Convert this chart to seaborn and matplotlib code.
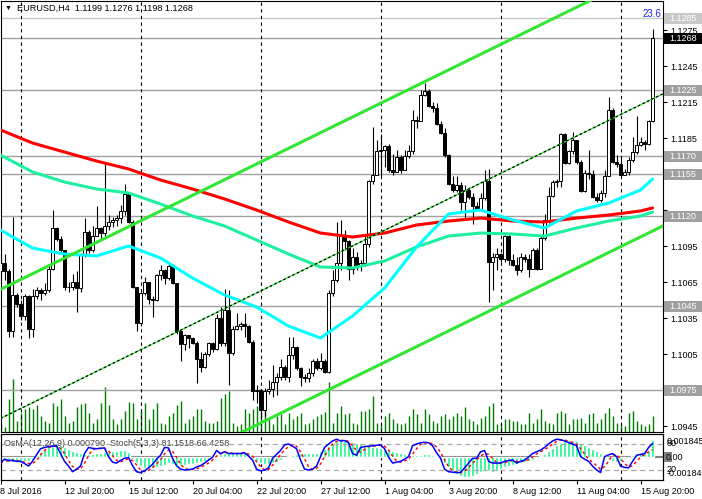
import numpy as np
import matplotlib
matplotlib.use("Agg")
import matplotlib.pyplot as plt
import matplotlib.transforms as mtransforms
from matplotlib.patches import Rectangle
import seaborn as sns

# EURUSD H4 candles, 8 Jul 2016 04:00 .. 16 Aug 2016 08:00
first_open = 1.1074
closes = [
    1.1081, 1.1074, 1.1024, 1.1054, 1.1047, 1.1037, 1.1053, 1.1026, 1.1053, 1.1058,
    1.1056, 1.1058, 1.1076, 1.1110, 1.1101, 1.1092, 1.1061, 1.1061, 1.1065, 1.1060,
    1.1088, 1.1107, 1.1092, 1.1103, 1.1110, 1.1106, 1.1112, 1.1115, 1.1117, 1.1118,
    1.1124, 1.1138, 1.1115, 1.1061, 1.1031, 1.1056, 1.1065, 1.1051, 1.1050, 1.1071,
    1.1075, 1.1068, 1.1078,
    1.1064, 1.1024, 1.1013, 1.1021, 1.1018, 1.1014, 1.1001, 1.0994, 1.1005, 1.1014,
    1.1009, 1.1035, 1.1014, 1.1042, 1.1006, 1.1026, 1.1028, 1.1030, 1.1028, 1.1015,
    1.0974, 1.0975, 1.0958, 1.0974, 1.0976, 1.0982, 1.0986, 1.0994, 1.0986, 1.1004,
    1.1011, 1.0993, 1.0986, 1.0985, 1.0989, 1.0999, 1.0993, 1.0999, 1.0990, 1.1056,
    1.1067,
    1.1081, 1.1104, 1.1099, 1.1076, 1.1086, 1.1078, 1.1081, 1.1097, 1.1149, 1.1154,
    1.1174, 1.1175, 1.1178, 1.1158, 1.1157, 1.1169, 1.1158, 1.1170, 1.1174, 1.1200,
    1.1199, 1.1221, 1.1224, 1.1212, 1.1210, 1.1197, 1.1189, 1.1171, 1.1147, 1.1142,
    1.1146, 1.1132, 1.1142, 1.1136, 1.1128, 1.1126, 1.1135, 1.1149, 1.1082, 1.1086,
    1.1088,
    1.1084, 1.1103, 1.1083, 1.1079, 1.1075, 1.1086, 1.1084, 1.1076, 1.1092, 1.1076,
    1.1102, 1.1117, 1.1137, 1.1148, 1.1149, 1.1188, 1.1164, 1.1174, 1.1183, 1.1165,
    1.1141, 1.1156, 1.1155, 1.1136, 1.1133, 1.1139, 1.1153, 1.1208, 1.1165, 1.1163,
    1.1154, 1.1157, 1.1167, 1.1173, 1.1179, 1.1182, 1.1180, 1.1199, 1.1268,
]
highs = [
    1.1088, 1.1088, 1.1076, 1.1119, 1.1056, 1.1050, 1.1055, 1.1054, 1.1059, 1.1061,
    1.1060, 1.1064, 1.1078, 1.1125, 1.1111, 1.1103, 1.1092, 1.1065, 1.1072, 1.1074,
    1.1089, 1.1118, 1.1108, 1.1112, 1.1128, 1.1111, 1.1164, 1.1121, 1.1119, 1.1121,
    1.1129, 1.1147, 1.1139, 1.1117, 1.1061, 1.1057, 1.1069, 1.1065, 1.1053, 1.1072,
    1.1079, 1.1076, 1.1081,
    1.1080, 1.1064, 1.1025, 1.1022, 1.1021, 1.1019, 1.1016, 1.1007, 1.1007, 1.1015,
    1.1015, 1.1038, 1.1044, 1.1059, 1.1058, 1.1028, 1.1039, 1.1032, 1.1039, 1.1029,
    1.1017, 1.0979, 1.0976, 1.0977, 1.0983, 1.0996, 1.0989, 1.1001, 1.0996, 1.1019,
    1.1019, 1.1012, 1.0994, 1.0988, 1.0993, 1.1001, 1.1002, 1.1006, 1.1001, 1.1058,
    1.1075,
    1.1115, 1.1117, 1.1108, 1.1100, 1.1093, 1.1090, 1.1083, 1.1103, 1.1150, 1.1194,
    1.1183, 1.1188, 1.1179, 1.1180, 1.1172, 1.1175, 1.1171, 1.1175, 1.1179, 1.1208,
    1.1203, 1.1225, 1.1231, 1.1226, 1.1215, 1.1214, 1.1199, 1.1193, 1.1172, 1.1153,
    1.1153, 1.1148, 1.1146, 1.1144, 1.1139, 1.1132, 1.1139, 1.1158, 1.1159, 1.1089,
    1.1093,
    1.1089, 1.1104, 1.1104, 1.1088, 1.1086, 1.1089, 1.1088, 1.1088, 1.1093, 1.1093,
    1.1104, 1.1122, 1.1144, 1.1150, 1.1151, 1.1189, 1.1189, 1.1175, 1.1190, 1.1183,
    1.1167, 1.1158, 1.1175, 1.1158, 1.1139, 1.1142, 1.1158, 1.1219, 1.1210, 1.1171,
    1.1168, 1.1159, 1.1169, 1.1186, 1.1203, 1.1186, 1.1183, 1.1200, 1.1276,
]
lows = [
    1.1068, 1.1067, 1.1019, 1.1019, 1.1044, 1.1033, 1.1033, 1.1018, 1.1019, 1.1051,
    1.1050, 1.1054, 1.1057, 1.1075, 1.1099, 1.1089, 1.1058, 1.1057, 1.1058, 1.1040,
    1.1057, 1.1086, 1.1089, 1.1090, 1.1104, 1.1100, 1.1103, 1.1108, 1.1111, 1.1112,
    1.1114, 1.1121, 1.1114, 1.1060, 1.1024, 1.1028, 1.1054, 1.1047, 1.1036, 1.1049,
    1.1067, 1.1063, 1.1067,
    1.1063, 1.1022, 1.0999, 1.1008, 1.1010, 1.1013, 1.0981, 1.0990, 1.0993, 1.1003,
    1.1007, 1.1008, 1.1012, 1.1012, 1.0979, 1.1004, 1.1025, 1.1025, 1.1019, 1.1014,
    1.0967, 1.0964, 1.0953, 1.0953, 1.0972, 1.0969, 1.0971, 1.0983, 1.0983, 1.0982,
    1.1001, 1.0992, 1.0978, 1.0982, 1.0982, 1.0987, 1.0992, 1.0992, 1.0989, 1.0989,
    1.1053,
    1.1065, 1.1075, 1.1092, 1.1067, 1.1072, 1.1075, 1.1074, 1.1078, 1.1094, 1.1147,
    1.1154, 1.1153, 1.1161, 1.1157, 1.1154, 1.1158, 1.1156, 1.1158, 1.1168, 1.1172,
    1.1193, 1.1199, 1.1220, 1.1211, 1.1207, 1.1196, 1.1188, 1.1169, 1.1146, 1.1140,
    1.1140, 1.1125, 1.1117, 1.1134, 1.1113, 1.1125, 1.1126, 1.1133, 1.1048, 1.1058,
    1.1075,
    1.1082, 1.1082, 1.1079, 1.1078, 1.1071, 1.1073, 1.1082, 1.1069, 1.1079, 1.1075,
    1.1078, 1.1100, 1.1114, 1.1136, 1.1144, 1.1144, 1.1163, 1.1163, 1.1172, 1.1163,
    1.1140, 1.1140, 1.1151, 1.1135, 1.1132, 1.1132, 1.1136, 1.1153, 1.1164, 1.1161,
    1.1153, 1.1154, 1.1154, 1.1165, 1.1172, 1.1178, 1.1175, 1.1179, 1.1198,
]
# tick volume, relative height
volumes = [
    8, 5, 33, 53, 11, 19, 23, 25, 23, 27, 16, 11, 9, 29, 26, 33, 16, 9, 11, 25,
    28, 29, 19, 9, 13, 29, 45, 27, 13, 8, 13, 21, 30, 29, 13, 21, 29,
    13, 23, 29, 9, 8, 16, 19, 27, 31, 9, 13, 16, 23, 23, 11, 9, 9, 11, 34, 38,
    41, 9, 6, 8, 23, 19, 23, 26, 19, 21, 13, 8, 16, 18, 8, 19, 13, 16, 19, 8,
    9, 13, 16, 18, 20, 50,
    9, 19, 26, 18, 19, 9, 8, 21, 21, 23, 36, 9, 8, 16, 19, 13, 9, 8, 9, 16,
    23, 18, 9, 23, 18, 11, 9, 16, 18, 13, 16, 19, 16, 25, 13, 11, 8, 14, 16, 26,
    29, 8, 9, 13, 13, 11, 11, 8, 8, 19, 9, 13, 23, 11, 9, 8, 19, 21, 19, 8,
    13, 13, 14, 9, 18, 19, 9, 13, 19, 24, 16, 9, 8, 6, 19, 21, 11, 8, 6, 8, 16,
]
# OsMA(12,26,9) histogram, in units of 0.00001
osma_e5 = [
    -19, -19, -23, -23, -23, -23, -19, -19, -14,
    9, 23, 37, 47, 51, 56, 56,
    47, 37, 28, 23, 19,
    14, 14, 14, 19, 19, 23, 23, 28, 28, 33, 33, 23,
    -9, -28, -42, -51, -56, -51, -47, -42, -37, -28,
    -33, -37, -37, -37, -33, -33, -28, -23, -19, -14,
    5, 9, 14, 19, 19, 23, 23, 23, 19, 14,
    -9, -19, -28, -33, -33, -28, -23,
    -14, -5, 5, 9, 14, 19, 19, 19, 19, 19,
    28, 37, 51, 65, 74, 79, 79, 74,
    70, 65, 60, 56, 51, 47, 47, 42, 37, 33, 28,
    23, 19, 14, 9, 9, 9, 9, 14, 14, 9, 5,
    -9, -28, -47, -65, -79, -88, -93, -93, -88, -79,
    -70, -60, -65, -70, -65, -56, -47, -42, -37, -33,
    -28, -23, -19, -14, -5, 5, 14, 28, 42,
    56, 65, 74, 79, 79, 74, 65, 56,
    47, 37, 28, 19, 9,
    -9, -19, -23, -19,
    -9, 0, 9, 14,
    19, 23, 28, 79,
]
# Stochastic(5,3,3)
stoch_main = [
    36, 45, 42, 42, 40, 40, 35, 29, 40, 55,
    69, 72, 74, 75, 76, 58, 40, 29, 16, 22,
    29, 58, 72, 70, 69, 70, 71, 51, 38, 36,
    42, 47, 49, 30, 16, 14, 18, 25, 33, 45,
    54, 72, 71, 47, 30, 22, 20, 21, 22, 27,
    30, 36, 43, 49, 65, 58, 62, 58, 58, 58,
    58, 60, 52, 43, 22, 18, 20, 25, 47, 56,
    65, 78, 80, 75, 69, 43, 22, 20, 22, 29,
    51, 72, 80, 87, 91, 87, 88, 83, 58, 54,
    72, 74, 75, 76, 77, 78, 69, 50, 36, 38,
    40, 45, 51, 76, 80, 83, 84, 83, 76, 60,
    47, 22, 16, 15, 14, 14, 25, 36, 47, 47,
    62, 65, 40, 36, 36, 36, 40, 42, 43, 36,
    40, 43, 50, 58, 62, 66, 72, 80, 87, 91,
    90, 87, 83, 80, 76, 51, 45, 40, 29, 20,
    14, 51, 55, 58, 51, 29, 26, 25, 40, 54,
    56, 58, 72, 81.15,
]
stoch_signal = [
    38, 40, 41, 43, 41, 41, 38, 35, 35, 41,
    55, 65, 72, 74, 75, 70, 58, 42, 28, 22,
    22, 36, 53, 67, 70, 70, 70, 64, 53, 42,
    39, 42, 46, 42, 32, 20, 16, 19, 25, 34,
    44, 57, 66, 63, 49, 33, 24, 21, 21, 23,
    26, 31, 36, 43, 52, 57, 62, 59, 59, 58,
    58, 59, 57, 52, 39, 28, 20, 21, 31, 43,
    56, 66, 74, 78, 75, 62, 45, 28, 21, 24,
    34, 51, 68, 80, 86, 88, 89, 86, 76, 65,
    61, 67, 74, 75, 76, 77, 75, 66, 52, 41,
    38, 41, 45, 57, 69, 80, 82, 83, 81, 73,
    61, 43, 28, 18, 15, 14, 18, 25, 36, 43,
    52, 58, 56, 47, 37, 36, 37, 39, 42, 40,
    40, 40, 44, 50, 57, 62, 67, 73, 80, 86,
    89, 89, 87, 83, 80, 69, 57, 45, 38, 30,
    21, 28, 40, 55, 55, 46, 35, 27, 30, 40,
    50, 56, 62, 66.43,
]
stoch_levels = [80, 20]

# moving averages sampled every 8 bars
ma_bars = [0, 8, 16, 24, 32, 40, 48, 56, 64, 72, 80, 88, 96, 104, 112, 120, 128, 136, 144, 152, 160, 163]
ma_slow = [1.11917, 1.11808, 1.11733, 1.11658, 1.11592, 1.1150, 1.11425, 1.11342, 1.1125, 1.1115, 1.11058,
           1.11025, 1.11058, 1.11125, 1.11158, 1.11183, 1.11158, 1.1115, 1.11183, 1.11208, 1.11242, 1.11267]
ma_mid = [1.11708, 1.11567, 1.11483, 1.11425, 1.11392, 1.1130, 1.1120, 1.11117, 1.1100, 1.10883, 1.10775,
          1.10767, 1.10825, 1.10942, 1.11033, 1.11058, 1.1105, 1.11033, 1.1110, 1.11158, 1.1120, 1.11233]
ma_fast = [1.11083, 1.10933, 1.10883, 1.10867, 1.1095, 1.1085, 1.10683, 1.10542, 1.10442, 1.10283, 1.10183,
           1.10367, 1.1060, 1.10942, 1.11217, 1.1125, 1.11167, 1.1110, 1.11242, 1.11308, 1.11417, 1.11508]

# rising channel
trend_bars = [0, 166]
chan_upper = [1.10588, 1.13299]
chan_mid = [1.09513, 1.12225]
chan_lower = [1.08413, 1.11124]

levels = [1.1285, 1.1225, 1.1170, 1.1155, 1.1120, 1.1045, 1.0975]
last_price = 1.1268
price_ticks = [1.1275, 1.1245, 1.1215, 1.1185, 1.1155, 1.1125, 1.1095, 1.1065, 1.1035, 1.1005, 1.0975, 1.0945]
hidden_ticks = [1.1155, 1.1125, 1.0975]   # covered by the level boxes
week_starts = [5, 35, 65, 95, 125, 155]
time_ticks = [0, 16, 32, 48, 64, 80, 96, 112, 128, 144, 160]
time_labels = ["8 Jul 2016", "12 Jul 20:00", "15 Jul 12:00", "20 Jul 04:00", "22 Jul 20:00",
               "27 Jul 12:00", "1 Aug 04:00", "3 Aug 20:00", "8 Aug 12:00", "11 Aug 04:00", "15 Aug 20:00"]

sns.set_theme(style="white")
plt.rcParams['font.family'] = ['Liberation Sans', 'DejaVu Sans']
FS = 6.5

W, H = 702, 499
fig = plt.figure(figsize=(W / 100, H / 100), dpi=100)
fig.patch.set_facecolor('white')
ax = fig.add_axes([0.5 / W, (H - 432) / H, 662.5 / W, 431 / H])
ax_ind = fig.add_axes([0.5 / W, (H - 480) / H, 662.5 / W, 46 / H])

bars = np.arange(len(closes))
c = np.array(closes)
o = np.r_[first_open, c[:-1]]
hi = np.maximum(np.array(highs), np.maximum(o, c))
lo = np.minimum(np.array(lows), np.minimum(o, c))
up = c >= o

# volume at the bottom of the price window
ax.vlines(bars, 0, np.array(volumes) / 431, transform=ax.get_xaxis_transform(),
          color='#007A00', lw=1.0, zorder=1)

for lv in levels:
    ax.axhline(lv, color='#C8C8C8' if lv == levels[0] else '#A0A0A0', lw=1.0, zorder=2)
ax.axhline(last_price, color='#A0A0A0', lw=1.0, zorder=2)
for wb in week_starts:
    ax.axvline(wb, color='black', lw=0.8, ls=(0, (3, 3)), zorder=2)
    ax_ind.axvline(wb, color='black', lw=0.8, ls=(0, (3, 3)), zorder=2)

# candles
ax.vlines(bars, lo, hi, color='black', lw=0.8, zorder=3)
ax.bar(bars, np.maximum(np.abs(c - o), 0.00002), bottom=np.minimum(o, c), width=0.55,
       color=np.where(up, 'white', 'black'), edgecolor='black', linewidth=0.7, zorder=4)

# moving averages
sns.lineplot(x=ma_bars, y=ma_slow, ax=ax, color='#FF0000', linewidth=2.2, zorder=5)
sns.lineplot(x=ma_bars, y=ma_mid, ax=ax, color='#1EF0A0', linewidth=2.2, zorder=5)
sns.lineplot(x=ma_bars, y=ma_fast, ax=ax, color='#00FFFF', linewidth=2.2, zorder=5)

# channel
sns.lineplot(x=trend_bars, y=chan_upper, ax=ax, color='#33E633', linewidth=2.2, zorder=6)
sns.lineplot(x=trend_bars, y=chan_lower, ax=ax, color='#33E633', linewidth=2.2, zorder=6)
ax.plot(trend_bars, chan_mid, color='#33E633', lw=0.9, zorder=6)
ax.plot(trend_bars, chan_mid, color='black', lw=0.9, ls=(0, (2, 2)), zorder=6)

ax.set_xlim(0, 165.6)
ax.set_ylim(1.0940, 1.129917)
ax.yaxis.tick_right()
ax.set_yticks(price_ticks)
ax.set_yticklabels(["" if t in hidden_ticks else f"{t:.4f}" for t in price_ticks], fontsize=FS, color='black')
ax.tick_params(axis='y', right=True, left=False, length=3, width=0.8, pad=2, colors='black')
ax.tick_params(axis='x', bottom=False, labelbottom=False)
ax.set_xlabel('')
ax.set_ylabel('')

# price labels on the right
blend = mtransforms.blended_transform_factory(fig.transFigure, ax.transData)
box_h = 11 / 12000
for lv in levels:
    fc = '#C8C8C8' if lv == levels[0] else '#A0A0A0'
    ax.add_patch(Rectangle((664 / W, lv - box_h / 2), 38 / W, box_h, transform=blend,
                           fc=fc, ec='none', clip_on=False, zorder=10))
    ax.text(683 / W, lv, f"{lv:.4f}", transform=blend, ha='center', va='center',
            color='white', fontsize=FS, clip_on=False, zorder=11)
ax.add_patch(Rectangle((664 / W, last_price - box_h / 2), 38 / W, box_h, transform=blend,
                       fc='black', ec='none', clip_on=False, zorder=10))
ax.text(683 / W, last_price, f"{last_price:.4f}", transform=blend, ha='center', va='center',
        color='white', fontsize=FS, clip_on=False, zorder=11)

ax.text(165.25, levels[0] + 0.00033, "23.6", ha='right', va='center', color='#2020FF', fontsize=FS + 0.5, zorder=11)
fig.text(5 / W, 1 - 8 / H, "\u25bc", fontsize=5, va='center', color='black')
fig.text(17 / W, 1 - 8 / H, "EURUSD,H4  1.1199 1.1276 1.1198 1.1268", fontsize=6.6, va='center', color='black')

# indicator window: OsMA histogram + stochastic
osma = np.array(osma_e5) * 1e-5
ax_ind.bar(bars, osma, width=0.75, color='#19F58C', zorder=3)
ax_ind.axhline(0, color='#808080', lw=1.5, zorder=2)
ax_ind.set_ylim(-0.00107, 0.00107)
ax_ind.set_xlim(0, 165.6)

ax_st = ax_ind.twinx()
for sl in stoch_levels:
    ax_st.axhline(sl, color='#A8A8A8', lw=0.9, ls=(0, (4, 3)), zorder=1)
sns.lineplot(x=bars, y=stoch_signal, ax=ax_st, color='#FF0000', linewidth=1.0, zorder=4)
ax_st.lines[-1].set_linestyle((0, (2, 2)))
sns.lineplot(x=bars, y=stoch_main, ax=ax_st, color='#0000FF', linewidth=1.1, zorder=5)
ax_st.set_ylim(-3.1, 103.1)
ax_st.set_xlim(0, 165.6)
ax_st.set_yticks([])
ax_st.set_ylabel('')
ax_ind.set_yticks([])

ax_ind.set_xticks(time_ticks)
ax_ind.set_xticklabels(time_labels, fontsize=FS, color='black', ha='left')
ax_ind.tick_params(axis='x', bottom=True, length=3, width=0.8, pad=2, direction='out', colors='black')
ax_ind.text(0.006, 0.80, "OsMA(12,26,9) 0.000790  Stoch(5,3,3) 81.1518 66.4258",
            transform=ax_ind.transAxes, fontsize=FS, color='#404040', va='center', zorder=6)

fig.text(667 / W, 1 - 441 / H, "0.001845", fontsize=FS, va='center', color='black')
fig.text(667 / W, 1 - 443 / H, "80", fontsize=FS, va='center', color='black')
fig.patches.append(Rectangle((664 / W, 1 - 462 / H), 8 / W, 10 / H, transform=fig.transFigure,
                             fc='#808080', ec='none', figure=fig))
fig.text(666 / W, 1 - 457 / H, "0.00", fontsize=FS, va='center', color='black')
fig.text(667 / W, 1 - 470 / H, "20", fontsize=FS, va='center', color='black')
fig.text(667 / W, 1 - 473 / H, "-0.001845", fontsize=FS, va='center', color='black')

for a in (ax, ax_ind, ax_st):
    for s in a.spines.values():
        s.set_color('black')
        s.set_linewidth(0.8)
    a.set_facecolor('none')
ax_ind.set_facecolor('white')

fig.savefig('out.png', dpi=100)
